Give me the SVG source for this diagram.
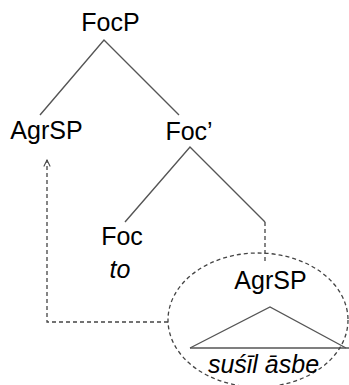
<svg xmlns="http://www.w3.org/2000/svg" width="349" height="385" viewBox="0 0 349 385">
  <defs>
    <style>
      .lbl { font-family: "Liberation Sans", Arial, sans-serif; font-size: 25px; fill: #000; text-anchor: middle; }
      .it { font-style: italic; }
      .branch { stroke: #555; stroke-width: 1.4; fill: none; }
      .dash { stroke: #444; stroke-width: 1.3; fill: none; stroke-dasharray: 4 3; }
    </style>
    <marker id="openHead" viewBox="0 0 10 10" refX="9" refY="5" markerWidth="8" markerHeight="8" orient="auto" markerUnits="userSpaceOnUse">
      <path d="M1,1 L9,5 L1,9" fill="none" stroke="#444" stroke-width="1.3"/>
    </marker>
  </defs>

  <rect width="349" height="385" fill="#fff"/>

  <!-- tree branches and movement path -->
  <g id="connectors">
    <path class="branch" d="M40,115 L104,40 L179,115"/>
    <path class="branch" d="M125,222 L190,147 L265,222"/>
    <path class="dash" d="M265,222 L265,262"/>
    <path class="branch" d="M190,348 L270,307 L346,348"/>
    <path class="branch" d="M190,348 L349,348"/>
    <path class="dash" d="M168,322 L47,322 L47,160" marker-end="url(#openHead)"/>
  </g>

  <g id="focp"><text class="lbl" x="110.5" y="31">FocP</text></g>
  <g id="agrsp-top"><text class="lbl" x="46.5" y="139">AgrSP</text></g>
  <g id="foc-bar"><text class="lbl" x="189" y="140">Foc’</text></g>
  <g id="foc">
    <text class="lbl" x="122" y="245">Foc</text>
    <text class="lbl it" x="120" y="278">to</text>
  </g>
  <g id="agrsp-low">
    <ellipse class="dash" cx="258" cy="320" rx="90" ry="67"/>
    <text class="lbl" x="270.5" y="289">AgrSP</text>
    <text class="lbl it" x="263.5" y="373">suśīl āsbe</text>
  </g>
</svg>
